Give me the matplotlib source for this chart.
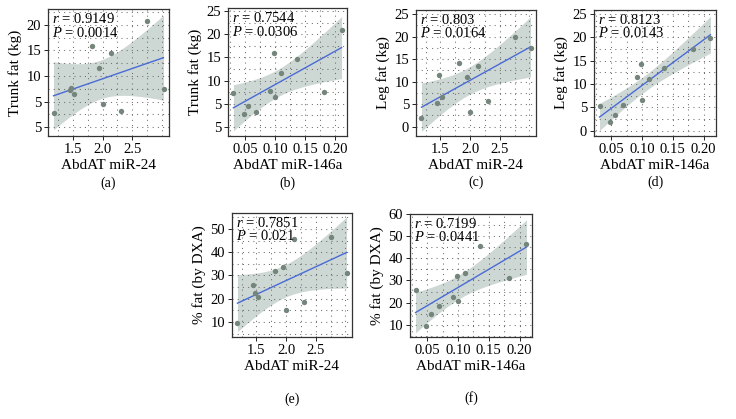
import numpy as np
import matplotlib
matplotlib.use("Agg")
import matplotlib.pyplot as plt
from matplotlib.ticker import MultipleLocator

# subject level values (11 subjects)
mir24 = [1.45, 1.18, 2.00, 2.31, 1.47, 1.82, 1.52, 1.94, 2.14, 3.02, 2.75]
mir146a = [0.031, 0.048, 0.056, 0.069, 0.092, 0.098, 0.100, 0.111, 0.136, 0.182, 0.211]
trunk_fat = [7.3, 2.8, 4.5, 3.25, 7.7, 15.9, 6.5, 11.6, 14.6, 7.55, 20.85]
leg_fat = [5.25, 1.9, 3.3, 5.6, 11.5, 14.2, 6.55, 11.0, 13.35, 17.5, 19.95]
pct_fat = [25.8, 9.5, 15.0, 18.6, 22.5, 32.1, 20.6, 33.6, 45.5, 31.2, 46.6]

r_text = ["0.9149", "0.7544", "0.803", "0.8123", "0.7851", "0.7199"]
p_text = ["0.0014", "0.0306", "0.0164", "0.0143", "0.021", "0.0441"]
panel_tags = ["(a)", "(b)", "(c)", "(d)", "(e)", "(f)"]

x_names = ["AbdAT miR-24", "AbdAT miR-146a"]
y_names = ["Trunk fat (kg)", "Leg fat (kg)", "% fat (by DXA)"]

# y tick labels as printed in the original figure
yticks_trunk = [0, 5, 10, 15, 20, 25]
ylabels_trunk = ["5", "5", "10", "15", "20", "25"]
yticks_leg = [0, 5, 10, 15, 20, 25]
yticks_pct = [10, 20, 30, 40, 50, 60]

PT_COL = "#74857c"
LINE_COL = "#4a6bd6"
BAND_COL = "#cdd7d3"
T975 = 2.262  # t quantile, df = 9

plt.rcParams["font.family"] = ["Liberation Serif", "DejaVu Serif"]
plt.rcParams["mathtext.fontset"] = "custom"
plt.rcParams["mathtext.it"] = "Liberation Serif:italic"
plt.rcParams["mathtext.rm"] = "Liberation Serif"

W, H = 736, 419
fig = plt.figure(figsize=(W / 100, H / 100), dpi=100)


def ax_rect(l, t, r, b):
    return fig.add_axes([l / W, 1 - b / H, (r - l) / W, (b - t) / H])


def fit_band(x, y, xs):
    x = np.asarray(x)
    y = np.asarray(y)
    n = len(x)
    b, a = np.polyfit(x, y, 1)
    res = y - (a + b * x)
    s = np.sqrt(np.sum(res ** 2) / (n - 2))
    sxx = np.sum((x - x.mean()) ** 2)
    se = s * np.sqrt(1 / n + (xs - x.mean()) ** 2 / sxx)
    fit = a + b * xs
    return fit, fit - T975 * se, fit + T975 * se


def panel(ax, x, y, xname, yname, r, p, tag, xticks, xminor, yticks, ylabels,
          yminor, ylim, tag_y):
    xs = np.linspace(min(x), max(x), 100)
    fit, lo, hi = fit_band(x, y, xs)
    ax.fill_between(xs, lo, hi, color=BAND_COL, lw=0, zorder=1)
    ax.plot(xs, fit, color=LINE_COL, lw=1.0, zorder=2)
    ax.scatter(x, y, s=15, color=PT_COL, lw=0, zorder=3)

    span = max(x) - min(x)
    ax.set_xlim(min(x) - 0.05 * span, max(x) + 0.05 * span)
    ax.set_ylim(*ylim)
    ax.set_xticks(xticks)
    ax.xaxis.set_minor_locator(MultipleLocator(xminor))
    ax.set_yticks(yticks)
    ax.set_yticklabels(ylabels)
    ax.yaxis.set_minor_locator(MultipleLocator(yminor))
    ax.grid(which="both", color="#6e6e6e", lw=0.75, ls=(0, (1, 4)))
    ax.tick_params(which="major", length=3, width=0.7, labelsize=10.5,
                   color="#222222", pad=2)
    ax.tick_params(which="minor", length=0)
    for sp in ax.spines.values():
        sp.set_linewidth(0.9)
        sp.set_color("#333333")
    ax.set_xlabel(xname, fontsize=11, labelpad=2)
    ax.set_ylabel(yname, fontsize=11, labelpad=3)
    ax.text(0.03, 0.975, "$r$ = " + r, transform=ax.transAxes,
            ha="left", va="top", fontsize=10.5)
    ax.text(0.03, 0.87, "$P$ = " + p, transform=ax.transAxes,
            ha="left", va="top", fontsize=10.5)
    ax.text(0.5, tag_y, tag, transform=ax.transAxes, ha="center",
            va="center", fontsize=10)


ax_a = ax_rect(48, 9, 169, 136)
panel(ax_a, mir24, trunk_fat, x_names[0], y_names[0], r_text[0], p_text[0],
      panel_tags[0], [1.5, 2.0, 2.5], 0.25, yticks_trunk[:5],
      ylabels_trunk[:5], 2.5, (-1.7, 23.1), -0.37)

ax_b = ax_rect(228, 8, 347, 136)
panel(ax_b, mir146a, trunk_fat, x_names[1], y_names[0], r_text[1], p_text[1],
      panel_tags[1], [0.05, 0.10, 0.15, 0.20], 0.025, yticks_trunk,
      ylabels_trunk, 2.5, (-2.0, 25.7), -0.37)

ax_c = ax_rect(416, 10, 536, 136)
panel(ax_c, mir24, leg_fat, x_names[0], y_names[1], r_text[2], p_text[2],
      panel_tags[2], [1.5, 2.0, 2.5], 0.25, yticks_leg,
      [str(v) for v in yticks_leg], 2.5, (-2.1, 25.9), -0.37)

ax_d = ax_rect(594, 10, 716, 136)
panel(ax_d, mir146a, leg_fat, x_names[1], y_names[1], r_text[3], p_text[3],
      panel_tags[3], [0.05, 0.10, 0.15, 0.20], 0.025, yticks_leg,
      [str(v) for v in yticks_leg], 2.5, (-1.1, 25.85), -0.37)

ax_e = ax_rect(232, 213, 352, 337)
panel(ax_e, mir24, pct_fat, x_names[0], y_names[2], r_text[4], p_text[4],
      panel_tags[4], [1.5, 2.0, 2.5], 0.25, yticks_pct[:5],
      [str(v) for v in yticks_pct[:5]], 5, (3.5, 56.9), -0.5)

ax_f = ax_rect(410, 214, 532, 337)
panel(ax_f, mir146a, pct_fat, x_names[1], y_names[2], r_text[5], p_text[5],
      panel_tags[5], [0.05, 0.10, 0.15, 0.20], 0.025, yticks_pct,
      [str(v) for v in yticks_pct], 5, (4.5, 60.0), -0.5)

fig.savefig("out.png", dpi=100)
